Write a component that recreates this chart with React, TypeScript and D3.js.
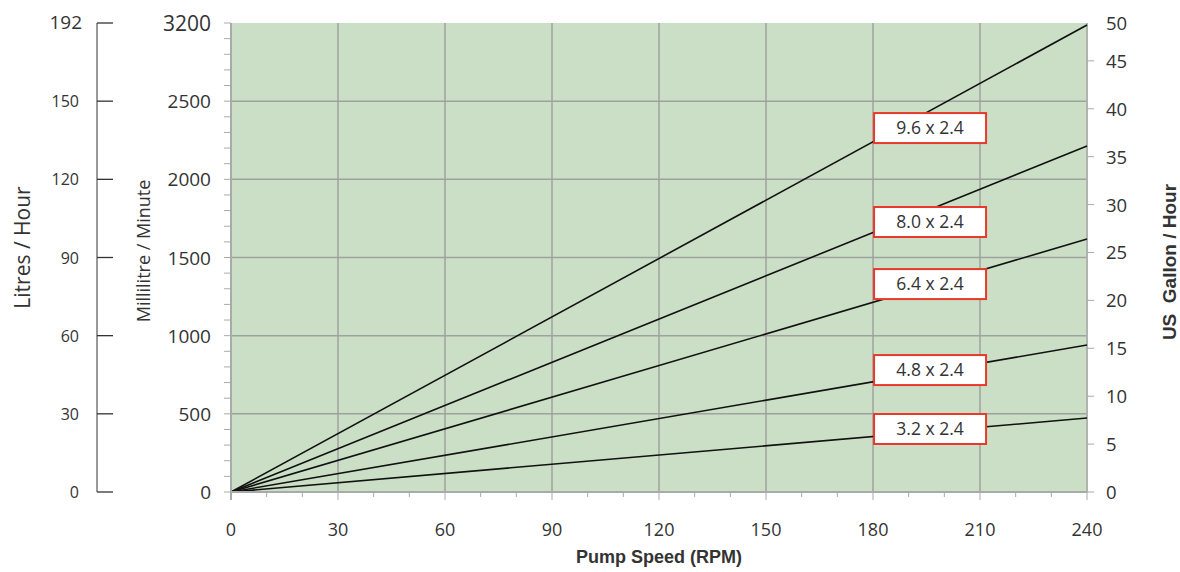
import React from "react";
import * as d3 from "d3";

const seriesNames = ["9.6 x 2.4", "8.0 x 2.4", "6.4 x 2.4", "4.8 x 2.4", "3.2 x 2.4"];
const flowAt240 = [2987, 2213, 1618, 940, 473]; // mL/min at 240 RPM (axis grid)
const labelRpm = [196, 196, 196, 196, 196];
const labelMl = [2328, 1727, 1330, 780, 403];
const rpmTicks = [0, 30, 60, 90, 120, 150, 180, 210, 240];
const mlTicks = [0, 500, 1000, 1500, 2000, 2500, 3000];
const mlTickLabels = ["0", "500", "1000", "1500", "2000", "2500", "3200"];
const lphTicks = [0, 30, 60, 90, 120, 150, 180];
const lphTickLabels = ["0", "30", "60", "90", "120", "150", "192"];
const galTicks = [0, 5, 10, 15, 20, 25, 30, 35, 40, 45];
const galTopLabel = "50";

const W = 1180, H = 572;
const L = 231, R = 1087, T = 23, B = 492;
const FONT = "'Open Sans', 'DejaVu Sans', sans-serif";
const BOLD = "'Liberation Sans', Arial, sans-serif";

export default function App() {
  const x = d3.scaleLinear().domain([0, 240]).range([L, R]);
  const y = d3.scaleLinear().domain([0, 3000]).range([B, T]);
  const yL = d3.scaleLinear().domain([0, 180]).range([B, T]);
  const yG = d3.scaleLinear().domain([0, 48.95]).range([B, T]);
  const line = d3.line<[number, number]>().x(d => x(d[0])).y(d => y(d[1]));
  const minorX = d3.range(0, 241, 10);
  const minorY = d3.range(0, 3001, 100);
  const grid = "#9ea29e";
  const txt = "#333";

  return (
    <svg width={W} height={H} style={{ position: "absolute", left: 0, top: 0, background: "#fff" }}>
      <rect x={L} y={T} width={R - L} height={B - T} fill="#cadfc5" />
      {/* grid */}
      {mlTicks.filter(v => v > 0 && v < 3000).map(v => (
        <line key={"hy" + v} x1={L} x2={R} y1={y(v)} y2={y(v)} stroke={grid} strokeWidth={1.5} />
      ))}
      {rpmTicks.filter(v => v > 0 && v < 240).map(v => (
        <line key={"vx" + v} x1={x(v)} x2={x(v)} y1={T} y2={B} stroke={grid} strokeWidth={1.5} />
      ))}
      <line x1={R} x2={R} y1={T} y2={B} stroke="#b0b4b0" strokeWidth={2} />
      {/* series lines */}
      {flowAt240.map((v, i) => (
        <path key={"s" + i} d={line([[0, 0], [240, v]]) || ""} stroke="#111" strokeWidth={1.6} fill="none" />
      ))}
      {/* labels */}
      {seriesNames.map((n, i) => (
        <g key={"lb" + i} transform={`translate(${x(labelRpm[i])},${y(labelMl[i])})`}>
          <rect x={-56} y={-15} width={112} height={30} fill="#fff" stroke="#e8392b" strokeWidth={2} />
          <text x={0} y={6} textAnchor="middle" fontFamily={FONT} fontSize={17.5} fill={txt}>{n}</text>
        </g>
      ))}
      {/* mL axis */}
      <line x1={L} x2={L} y1={T} y2={B + 8} stroke="#a8aca8" strokeWidth={2} />
      {minorY.map(v => (
        <line key={"my" + v} x1={L - 7} x2={L} y1={y(v)} y2={y(v)} stroke="#a8aca8" strokeWidth={1} />
      ))}
      {mlTicks.map((v, i) => (
        <text key={"ml" + v} x={L - 20} y={y(v) + (i === mlTicks.length - 1 ? 8 : 7)} textAnchor="end" fontFamily={FONT}
          fontSize={i === mlTicks.length - 1 ? 21 : 19} fill={txt}>{mlTickLabels[i]}</text>
      ))}
      {/* x axis */}
      <line x1={L} x2={R} y1={B} y2={B} stroke="#a8aca8" strokeWidth={2} />
      {minorX.map(v => (
        <line key={"mx" + v} x1={x(v)} x2={x(v)} y1={B} y2={B + (v % 30 === 0 ? 8 : 5)} stroke="#a8aca8" strokeWidth={1} />
      ))}
      {rpmTicks.map(v => (
        <text key={"rx" + v} x={x(v)} y={536} textAnchor="middle" fontFamily={FONT} fontSize={18} fill={txt}>{v}</text>
      ))}
      <text x={(L + R) / 2} y={563} textAnchor="middle" fontFamily={BOLD} fontWeight="bold" fontSize={18} fill={txt}>Pump Speed (RPM)</text>
      {/* L/h axis */}
      <line x1={97} x2={97} y1={T} y2={B} stroke="#999" strokeWidth={2} />
      {lphTicks.map((v, i) => (
        <g key={"lh" + v}>
          <line x1={97} x2={113} y1={yL(v)} y2={yL(v)} stroke="#333" strokeWidth={1.3} />
          <text x={i === lphTicks.length - 1 ? 82 : 79} y={yL(v) + 6} textAnchor="end" fontFamily={FONT}
            fontSize={i === lphTicks.length - 1 ? 19 : 16} fill={txt}>{lphTickLabels[i]}</text>
        </g>
      ))}
      <text transform={`translate(30,247.5) rotate(-90)`} textAnchor="middle" fontFamily={FONT} fontSize={21} fill={txt}>Litres / Hour</text>
      <text transform={`translate(150,251) rotate(-90)`} textAnchor="middle" fontFamily={FONT} fontSize={18} fill={txt}>Millilitre / Minute</text>
      {/* Gallon axis */}
      {galTicks.map(v => (
        <g key={"g" + v}>
          <line x1={R} x2={R + 7} y1={yG(v)} y2={yG(v)} stroke="#a8aca8" strokeWidth={1} />
          <text x={1106} y={yG(v) + 7} fontFamily={FONT} fontSize={18.5} fill={txt}>{v}</text>
        </g>
      ))}
      <text x={1106} y={yG(48.95) + 7} fontFamily={FONT} fontSize={18.5} fill={txt}>{galTopLabel}</text>
      <text transform={`translate(1176,262) rotate(-90)`} textAnchor="middle" fontFamily={BOLD} fontWeight="bold" fontSize={19}
        fill={txt} style={{ whiteSpace: "pre" }}>{"US  Gallon / Hour"}</text>
    </svg>
  );
}
